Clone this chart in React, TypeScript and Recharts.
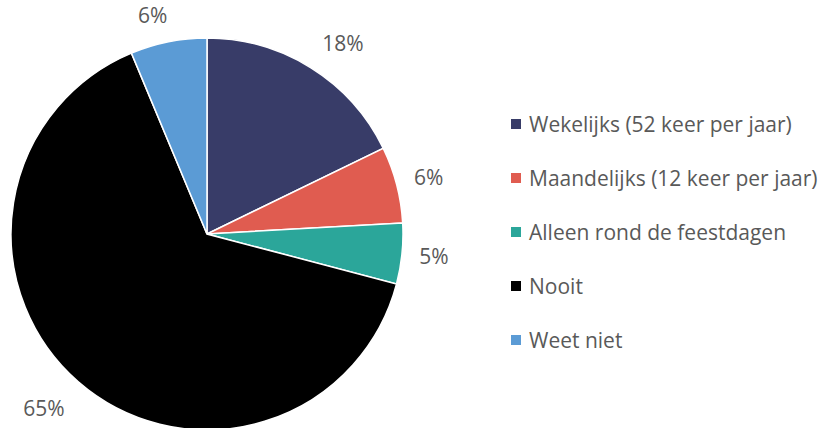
import React from "react";
import { PieChart, Pie, Cell, Legend } from "recharts";

const categories = [
  "Wekelijks (52 keer per jaar)",
  "Maandelijks (12 keer per jaar)",
  "Alleen rond de feestdagen",
  "Nooit",
  "Weet niet",
];
const values = [17.8, 6.3, 5.0, 64.6, 6.3];
const labels = ["18%", "6%", "5%", "65%", "6%"];
const colors = ["#383C68", "#E05C50", "#2BA69A", "#000000", "#5B9BD5"];

// small per-label nudges (pixels) to mimic the original label placement
const labelNudge = [
  [14, 4],
  [-1, 1],
  [-2, -1],
  [-12, 1],
  [-9, 7],
];

const data = categories.map((name, i) => ({ name, value: values[i], label: labels[i] }));

const RAD = Math.PI / 180;
const FONT = "'Open Sans', sans-serif";

const renderLabel = (props: any) => {
  const { cx, cy, midAngle, outerRadius, index } = props;
  const r = outerRadius + 34;
  const x = cx + r * Math.cos(-midAngle * RAD) + labelNudge[index][0];
  const y = cy + r * Math.sin(-midAngle * RAD) + labelNudge[index][1];
  return (
    <text
      x={x}
      y={y}
      fill="#595959"
      fontSize={21}
      fontFamily={FONT}
      textAnchor="middle"
      dominantBaseline="central"
    >
      {labels[index]}
    </text>
  );
};

const LegendContent = () => (
  <div style={{ fontFamily: FONT, fontSize: 21, color: "#595959" }}>
    {categories.map((c, i) => (
      <div key={c} style={{ display: "flex", alignItems: "center", height: 54, whiteSpace: "nowrap" }}>
        <span
          style={{
            display: "inline-block",
            width: 10,
            height: 10,
            background: colors[i],
            marginRight: 8,
            flexShrink: 0,
          }}
        />
        <span>{c}</span>
      </div>
    ))}
  </div>
);

export default function App() {
  return (
    <div style={{ width: 823, height: 428, background: "#fff" }}>
      <style>{`body{margin:0}`}</style>
      <PieChart width={823} height={428} margin={{ top: 0, right: 0, bottom: 0, left: 0 }}>
        <Pie
          data={data}
          dataKey="value"
          nameKey="name"
          cx={207}
          cy={234}
          outerRadius={196}
          startAngle={90}
          endAngle={-270}
          stroke="#ffffff"
          strokeWidth={1.5}
          label={renderLabel}
          labelLine={false}
          isAnimationActive={false}
        >
          {data.map((d, i) => (
            <Cell key={d.name} fill={colors[i]} />
          ))}
        </Pie>
        <Legend
          content={<LegendContent />}
          wrapperStyle={{ position: "absolute", left: 511, top: 97, width: 312 }}
        />
      </PieChart>
    </div>
  );
}
